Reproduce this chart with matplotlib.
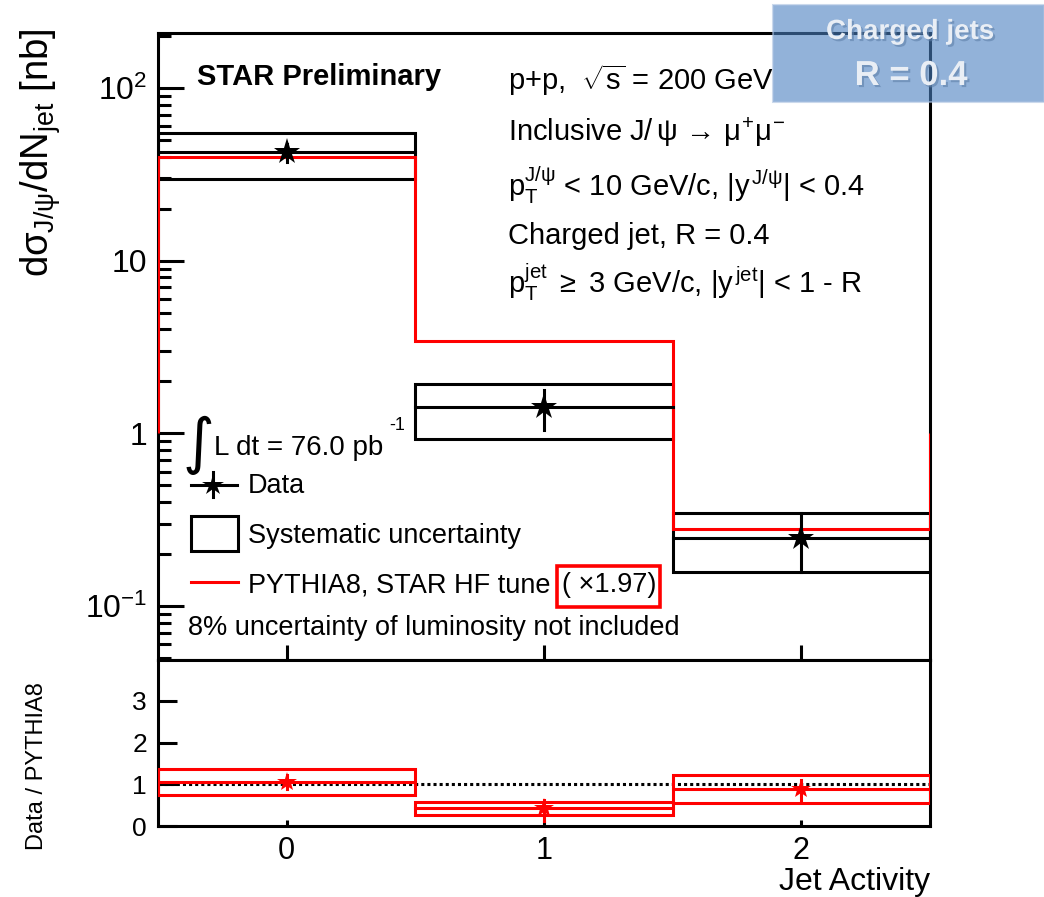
import matplotlib
matplotlib.use("Agg")
import matplotlib.pyplot as plt
import matplotlib.patheffects as pe
from matplotlib.patches import Rectangle
from matplotlib.ticker import FixedLocator, LogLocator, NullFormatter

plt.rcParams["font.family"] = ["Liberation Sans", "DejaVu Sans"]
plt.rcParams["mathtext.fontset"] = "custom"
plt.rcParams["mathtext.rm"] = "Liberation Sans"
plt.rcParams["mathtext.it"] = "Liberation Sans"
plt.rcParams["mathtext.bf"] = "Liberation Sans:bold"

# ---- data ----
jet_activity = [0, 1, 2]
bin_edges = [-0.5, 0.5, 1.5, 2.5]

data_xsec = [42.5, 1.43, 0.248]
stat_lo = [37.4, 1.05, 0.157]
stat_hi = [47.4, 1.79, 0.346]
sys_lo = [29.7, 0.93, 0.157]
sys_hi = [54.7, 1.94, 0.346]
pythia = [39.8, 3.41, 0.281]

ratio = [1.06, 0.42, 0.88]
ratio_stat_lo = [0.88, 0.13, 0.58]
ratio_stat_hi = [1.22, 0.62, 1.10]
ratio_sys_lo = [0.74, 0.27, 0.56]
ratio_sys_hi = [1.37, 0.57, 1.22]

W, H = 1044, 897
RED = "#ff0000"
LW = 2.2


def fx(px):
    return px / W


def fy(py):
    return 1 - py / H


fig = plt.figure(figsize=(W / 100, H / 100), dpi=100)
ax = fig.add_axes([fx(158), fy(660), fx(930) - fx(158), fy(33) - fy(660)])
rax = fig.add_axes([fx(158), fy(826), fx(930) - fx(158), fy(660) - fy(826)])

# ── main panel ───────────────────────────────────────────────────
ax.set_yscale("log")
ax.set_xlim(-0.5, 2.5)
ax.set_ylim(0.0487, 208)

ax.stairs(pythia, bin_edges, baseline=1, color=RED, lw=LW, zorder=3)

for i, x in enumerate(jet_activity):
    x0, x1 = bin_edges[i], bin_edges[i + 1]
    ax.add_patch(Rectangle((x0, sys_lo[i]), x1 - x0, sys_hi[i] - sys_lo[i],
                           fill=False, edgecolor="black", lw=LW, zorder=2))
    ax.plot([x0, x1], [data_xsec[i]] * 2, color="black", lw=LW, zorder=4)
    ax.plot([x, x], [stat_lo[i], stat_hi[i]], color="black", lw=LW, zorder=4)
ax.plot(jet_activity, data_xsec, ls="none", marker="*", ms=20, color="black",
        mew=0, zorder=5)

ax.yaxis.set_major_locator(FixedLocator([0.1, 1, 10, 100]))
ax.set_yticklabels([r"$10^{-1}$", "1", "10", r"$10^{2}$"])
ax.yaxis.set_minor_locator(LogLocator(base=10, subs=range(2, 10), numticks=20))
ax.yaxis.set_minor_formatter(NullFormatter())
ax.set_xticks(jet_activity)
ax.set_xticklabels([])
ax.tick_params(axis="y", which="major", direction="in", length=19, width=LW,
               labelsize=23, pad=8)
ax.tick_params(axis="y", which="minor", direction="in", length=9.5, width=LW)
ax.tick_params(axis="x", which="major", direction="in", length=11, width=LW)
for s in ax.spines.values():
    s.set_linewidth(LW)

# ── ratio panel ──────────────────────────────────────────────────
rax.set_xlim(-0.5, 2.5)
rax.set_ylim(0, 3.98)
rax.axhline(1, color="black", lw=LW, ls=(0, (1, 1)), zorder=2)
for i, x in enumerate(jet_activity):
    x0, x1 = bin_edges[i], bin_edges[i + 1]
    rax.add_patch(Rectangle((x0, ratio_sys_lo[i]), x1 - x0,
                            ratio_sys_hi[i] - ratio_sys_lo[i],
                            fill=False, edgecolor=RED, lw=LW, zorder=3))
    rax.plot([x0, x1], [ratio[i]] * 2, color=RED, lw=LW, zorder=4)
    rax.plot([x, x], [ratio_stat_lo[i], ratio_stat_hi[i]], color=RED, lw=LW, zorder=4)
rax.plot(jet_activity, ratio, ls="none", marker="*", ms=15, color=RED,
         mew=0, zorder=5)

rax.set_yticks([0, 1, 2, 3])
rax.set_xticks(jet_activity)
rax.tick_params(axis="y", direction="in", length=14, width=LW, labelsize=19, pad=8)
rax.tick_params(axis="x", direction="in", length=4, width=LW, labelsize=22, pad=7)
for s in rax.spines.values():
    s.set_linewidth(LW)

# ── axis titles ──────────────────────────────────────────────────
fig.text(fx(18), fy(28), r"d$\sigma_{\mathrm{J/\psi}}$/dN$_{\mathrm{jet}}$ [nb]",
         rotation=90, ha="left", va="top", fontsize=27.5)
fig.text(fx(26), fy(850), "Data / PYTHIA8", rotation=90, ha="left",
         va="bottom", fontsize=17)
fig.text(fx(930), fy(890), "Jet Activity", ha="right", va="baseline", fontsize=23)

# ── labels inside the main panel ─────────────────────────────────
fig.text(fx(197), fy(85), "STAR Preliminary", fontsize=21, fontweight="bold",
         va="baseline")
info = [
    (90, r"p+p,  $\sqrt{\mathrm{s}}$ = 200 GeV"),
    (141, r"Inclusive J/$\,\psi\,\rightarrow\,\mu^{+}\mu^{-}$"),
    (196, r"p$_{\mathrm{T}}^{\mathrm{J/\psi}}$ < 10 GeV/c, |y$^{\,\mathrm{J/\psi}}$| < 0.4"),
    (244, "Charged jet, R = 0.4"),
    (293, r"p$_{\mathrm{T}}^{\mathrm{jet}}$ $\geq$ 3 GeV/c, |y$^{\,\mathrm{jet}}$| < 1 - R"),
]
for yb, txt in info:
    fig.text(fx(508), fy(yb), txt, fontsize=21, va="baseline")

# luminosity
fig.text(fx(183), fy(462), "\u222b", fontsize=44, va="baseline",
         family="DejaVu Sans")
fig.text(fx(214), fy(455), "L dt = 76.0 pb", fontsize=20, va="baseline")
fig.text(fx(389), fy(430), "-1", fontsize=13, va="baseline")

# legend
fig.add_artist(plt.Line2D([fx(191), fx(237)], [fy(485), fy(485)], color="black",
                          lw=LW, transform=fig.transFigure))
fig.add_artist(plt.Line2D([fx(213), fx(213)], [fy(472), fy(497)], color="black",
                          lw=LW, transform=fig.transFigure))
fig.add_artist(plt.Line2D([fx(213)], [fy(485)], marker="*", ms=16, color="black",
                          mew=0, transform=fig.transFigure))
fig.text(fx(248), fy(493), "Data", fontsize=19.5, va="baseline")

fig.add_artist(Rectangle((fx(191), fy(551)), fx(238) - fx(191), fy(516) - fy(551),
                         fill=False, edgecolor="black", lw=LW,
                         transform=fig.transFigure))
fig.text(fx(248), fy(543), "Systematic uncertainty", fontsize=19.5, va="baseline")

fig.add_artist(plt.Line2D([fx(191), fx(238)], [fy(582), fy(582)], color=RED,
                          lw=LW, transform=fig.transFigure))
fig.text(fx(248), fy(592), "PYTHIA8, STAR HF tune", fontsize=19.5, va="baseline")
fig.text(fx(562), fy(592), "( \u00d71.97)", fontsize=19.5, va="baseline")
fig.add_artist(Rectangle((fx(557), fy(607)), fx(660) - fx(557), fy(566) - fy(607),
                         fill=False, edgecolor=RED, lw=2.6,
                         transform=fig.transFigure))

fig.text(fx(188), fy(635), "8% uncertainty of luminosity not included",
         fontsize=19.5, va="baseline")

# ── "Charged jets" badge ─────────────────────────────────────────
fig.add_artist(Rectangle((fx(773), fy(102)), fx(1044) - fx(773), fy(5) - fy(102),
                         facecolor="#4a80c0", alpha=0.6, edgecolor="#a9c0e0",
                         lw=1.5, transform=fig.transFigure, zorder=10))
shadow = [pe.SimplePatchShadow(offset=(1.5, -1.5), shadow_rgbFace="#5f80aa",
                               alpha=0.6), pe.Normal()]
fig.text(fx(910), fy(39), "Charged jets", fontsize=20, fontweight="bold",
         color="#e9eef5", ha="center", va="baseline", zorder=11,
         path_effects=shadow)
fig.text(fx(911), fy(85), "R = 0.4", fontsize=25, fontweight="bold",
         color="#e9eef5", ha="center", va="baseline", zorder=11,
         path_effects=shadow)

fig.savefig("out.png", dpi=100, facecolor="white")
